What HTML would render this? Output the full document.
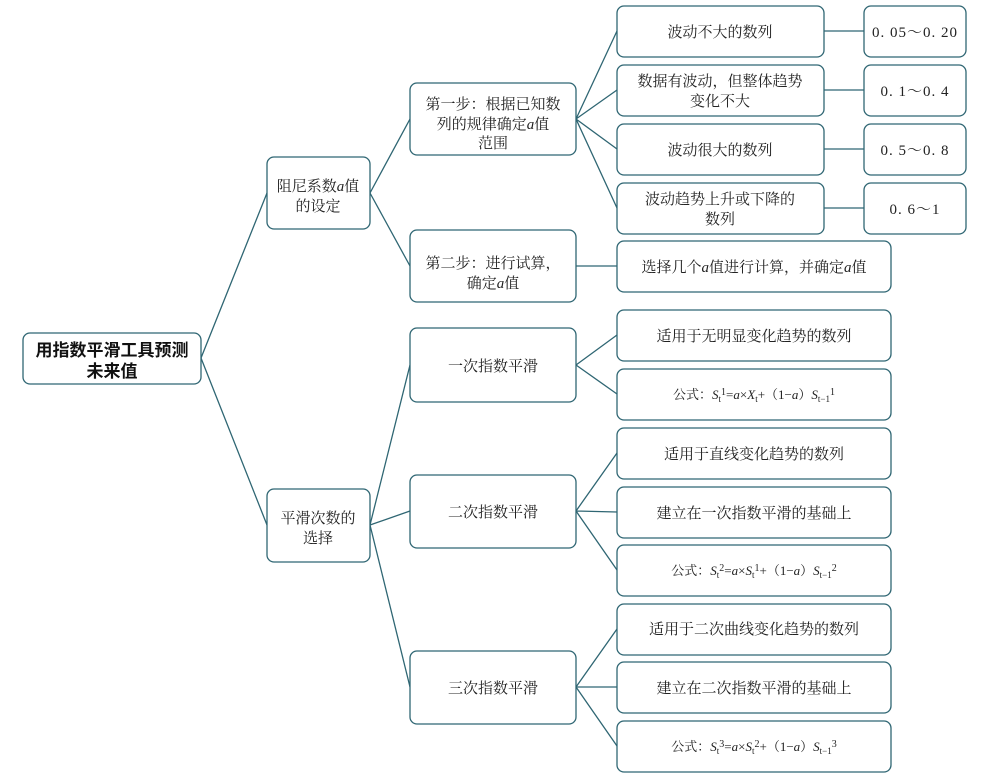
<!DOCTYPE html>
<html><head><meta charset="utf-8"><style>
html,body{margin:0;padding:0;background:#fff;}
svg{display:block}
text{font-family:"Liberation Serif","Noto Serif CJK SC",serif;font-size:15px;fill:#222;}
.b{fill:#fff;stroke:#2f6673;stroke-width:1.3}
.l{stroke:#2f6673;stroke-width:1.3;fill:none}
.r{font-family:"Liberation Sans","Noto Sans CJK SC",sans-serif;font-weight:bold;font-size:17px;fill:#111}
.f{font-size:13px}
.v{font-size:15px;letter-spacing:1px}
</style></head><body>
<svg width="1006" height="780" viewBox="0 0 1006 780">
<g class="l">
<path d="M201 358L267 193M201 358L267 525"/>
<path d="M370 193L410 119M370 193L410 266"/>
<path d="M576 119L617 31M576 119L617 90M576 119L617 149M576 119L617 208M576 266L617 266"/>
<path d="M370 525L410 365M370 525L410 511M370 525L410 687"/>
<path d="M576 365L617 335M576 365L617 394M576 511L617 453M576 511L617 512M576 511L617 570M576 687L617 629M576 687L617 687M576 687L617 746"/>
<path d="M824 31H864M824 90H864M824 149H864M824 208H864"/>
</g>
<g class="b">
<rect x="23" y="333" width="178" height="51" rx="7"/>
<rect x="267" y="157" width="103" height="72" rx="7"/>
<rect x="267" y="489" width="103" height="73" rx="7"/>
<rect x="410" y="83" width="166" height="72" rx="7"/>
<rect x="410" y="230" width="166" height="72" rx="7"/>
<rect x="410" y="328" width="166" height="74" rx="7"/>
<rect x="410" y="475" width="166" height="73" rx="7"/>
<rect x="410" y="651" width="166" height="73" rx="7"/>
<rect x="617" y="6" width="207" height="51" rx="7"/>
<rect x="617" y="65" width="207" height="51" rx="7"/>
<rect x="617" y="124" width="207" height="51" rx="7"/>
<rect x="617" y="183" width="207" height="51" rx="7"/>
<rect x="617" y="241" width="274" height="51" rx="7"/>
<rect x="617" y="310" width="274" height="51" rx="7"/>
<rect x="617" y="369" width="274" height="51" rx="7"/>
<rect x="617" y="428" width="274" height="51" rx="7"/>
<rect x="617" y="487" width="274" height="51" rx="7"/>
<rect x="617" y="545" width="274" height="51" rx="7"/>
<rect x="617" y="604" width="274" height="51" rx="7"/>
<rect x="617" y="662" width="274" height="51" rx="7"/>
<rect x="617" y="721" width="274" height="51" rx="7"/>
<rect x="864" y="6" width="102" height="51" rx="7"/>
<rect x="864" y="65" width="102" height="51" rx="7"/>
<rect x="864" y="124" width="102" height="51" rx="7"/>
<rect x="864" y="183" width="102" height="51" rx="7"/>
</g>
<g text-anchor="middle">
<text class="r" x="112" y="356">用指数平滑工具预测</text>
<text class="r" x="112" y="377">未来值</text>
<text x="318" y="191">阻尼系数<tspan font-style="italic">a</tspan>值</text>
<text x="318" y="211">的设定</text>
<text x="318" y="523">平滑次数的</text>
<text x="318" y="543">选择</text>
<text x="493" y="109">第一步：根据已知数</text>
<text x="493" y="129">列的规律确定<tspan font-style="italic">a</tspan>值</text>
<text x="493" y="148">范围</text>
<text x="493" y="268">第二步：进行试算，</text>
<text x="493" y="288">确定<tspan font-style="italic">a</tspan>值</text>
<text x="493" y="371">一次指数平滑</text>
<text x="493" y="517">二次指数平滑</text>
<text x="493" y="693">三次指数平滑</text>
<text x="720" y="37">波动不大的数列</text>
<text x="720" y="86">数据有波动，但整体趋势</text>
<text x="720" y="106">变化不大</text>
<text x="720" y="155">波动很大的数列</text>
<text x="720" y="204">波动趋势上升或下降的</text>
<text x="720" y="224">数列</text>
<text x="754" y="272">选择几个<tspan font-style="italic">a</tspan>值进行计算，并确定<tspan font-style="italic">a</tspan>值</text>
<text x="754" y="341">适用于无明显变化趋势的数列</text>
<text class="f" x="754" y="399">公式：<tspan font-style="italic">S</tspan><tspan font-size="9" dy="3">t</tspan><tspan font-size="10" dy="-7">1</tspan><tspan dy="4">=</tspan><tspan font-style="italic">a</tspan>×<tspan font-style="italic">X</tspan><tspan font-size="9" dy="3">t</tspan><tspan dy="-3">+（1−</tspan><tspan font-style="italic">a</tspan>）<tspan font-style="italic">S</tspan><tspan font-size="9" dy="3">t−1</tspan><tspan font-size="10" dy="-7">1</tspan></text>
<text x="754" y="459">适用于直线变化趋势的数列</text>
<text x="754" y="518">建立在一次指数平滑的基础上</text>
<text class="f" x="754" y="575">公式：<tspan font-style="italic">S</tspan><tspan font-size="9" dy="3">t</tspan><tspan font-size="10" dy="-7">2</tspan><tspan dy="4">=</tspan><tspan font-style="italic">a</tspan>×<tspan font-style="italic">S</tspan><tspan font-size="9" dy="3">t</tspan><tspan font-size="10" dy="-7">1</tspan><tspan dy="4">+（1−</tspan><tspan font-style="italic">a</tspan>）<tspan font-style="italic">S</tspan><tspan font-size="9" dy="3">t−1</tspan><tspan font-size="10" dy="-7">2</tspan></text>
<text x="754" y="634">适用于二次曲线变化趋势的数列</text>
<text x="754" y="693">建立在二次指数平滑的基础上</text>
<text class="f" x="754" y="751">公式：<tspan font-style="italic">S</tspan><tspan font-size="9" dy="3">t</tspan><tspan font-size="10" dy="-7">3</tspan><tspan dy="4">=</tspan><tspan font-style="italic">a</tspan>×<tspan font-style="italic">S</tspan><tspan font-size="9" dy="3">t</tspan><tspan font-size="10" dy="-7">2</tspan><tspan dy="4">+（1−</tspan><tspan font-style="italic">a</tspan>）<tspan font-style="italic">S</tspan><tspan font-size="9" dy="3">t−1</tspan><tspan font-size="10" dy="-7">3</tspan></text>
<text class="v" x="915" y="37">0. 05～0. 20</text>
<text class="v" x="915" y="96">0. 1～0. 4</text>
<text class="v" x="915" y="155">0. 5～0. 8</text>
<text class="v" x="915" y="214">0. 6～1</text>
</g>
</svg>
</body></html>
